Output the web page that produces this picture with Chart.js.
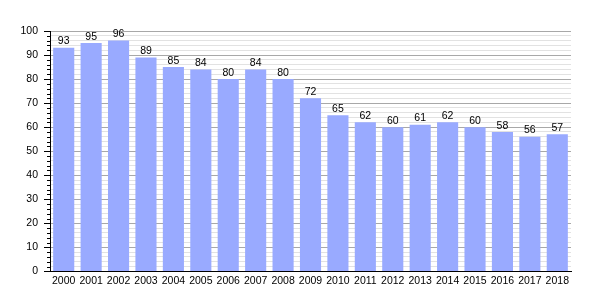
<!DOCTYPE html>
<html>
<head>
<meta charset="utf-8">
<script src="https://cdn.jsdelivr.net/npm/chart.js@4"></script>
<style>
	html, body { margin: 0; padding: 0; background: #fff; }
</style>
</head>
<body>
<canvas id="chart" width="600" height="300"></canvas>
<script>
"use strict"

const years = ['2000', '2001', '2002', '2003', '2004', '2005', '2006', '2007', '2008', '2009',
	'2010', '2011', '2012', '2013', '2014', '2015', '2016', '2017', '2018'];
const values = [93, 95, 96, 89, 85, 84, 80, 84, 80, 72, 65, 62, 60, 61, 62, 60, 58, 56, 57];
const yTicks = [0, 10, 20, 30, 40, 50, 60, 70, 80, 90, 100];

const FONT = 'Liberation Sans, Arial, sans-serif';

// подписи значений над столбцами
const valueLabels = {
	id: 'valueLabels',
	afterDatasetsDraw(chart) {
		const ctx = chart.ctx;
		const meta = chart.getDatasetMeta(0);
		ctx.save();
		ctx.font = '10.5px ' + FONT;
		ctx.fillStyle = '#000';
		ctx.textAlign = 'center';
		ctx.textBaseline = 'bottom';
		meta.data.forEach((bar, i) => {
			ctx.fillText(values[i], bar.x, bar.y - 1);
		});
		ctx.restore();
	}
};

// засечки на оси Y (большие и маленькие)
const axisTicks = {
	id: 'axisTicks',
	afterDraw(chart) {
		const ctx = chart.ctx;
		const y = chart.scales.y;
		const x0 = chart.chartArea.left;
		ctx.save();
		ctx.strokeStyle = '#000';
		ctx.lineWidth = 1;
		for (let v = 0; v <= 100; v += 2) {
			const py = Math.round(y.getPixelForValue(v)) + 0.5;
			const len = v % 10 === 0 ? 6 : 3;
			ctx.beginPath();
			ctx.moveTo(x0 - len, py);
			ctx.lineTo(x0, py);
			ctx.stroke();
		}
		ctx.restore();
	}
};

new Chart(document.getElementById('chart'), {
	type: 'bar',
	data: {
		labels: years,
		datasets: [{
			data: values,
			backgroundColor: '#99aaff',
			borderWidth: 0,
			categoryPercentage: 1,
			barPercentage: 0.77
		}]
	},
	options: {
		responsive: false,
		animation: false,
		devicePixelRatio: 1,
		layout: { padding: { top: 31, right: 29, bottom: 10, left: 0 } },
		plugins: { legend: { display: false }, tooltip: { enabled: false } },
		scales: {
			x: {
				grid: { display: false, drawTicks: false },
				border: { color: '#000', width: 1 },
				ticks: {
					color: '#000',
					font: { family: FONT, size: 10.5 },
					maxRotation: 0,
					autoSkip: false,
					padding: 3
				}
			},
			y: {
				min: 0,
				max: 100,
				afterFit(scale) { scale.width = 50; },
				afterBuildTicks(scale) {
					const t = [];
					for (let v = 0; v <= 100; v += 2) t.push({ value: v });
					scale.ticks = t;
				},
				grid: {
					drawTicks: false,
					color: c => c.tick.value % 10 === 0 ? '#a8a8a8' : '#e2e2e2',
					lineWidth: 1
				},
				border: { color: '#000', width: 1 },
				ticks: {
					color: '#000',
					font: { family: FONT, size: 10.5 },
					padding: 12,
					autoSkip: false,
					callback: v => yTicks.includes(v) ? v : ''
				}
			}
		}
	},
	plugins: [valueLabels, axisTicks]
});
</script>
</body>
</html>
